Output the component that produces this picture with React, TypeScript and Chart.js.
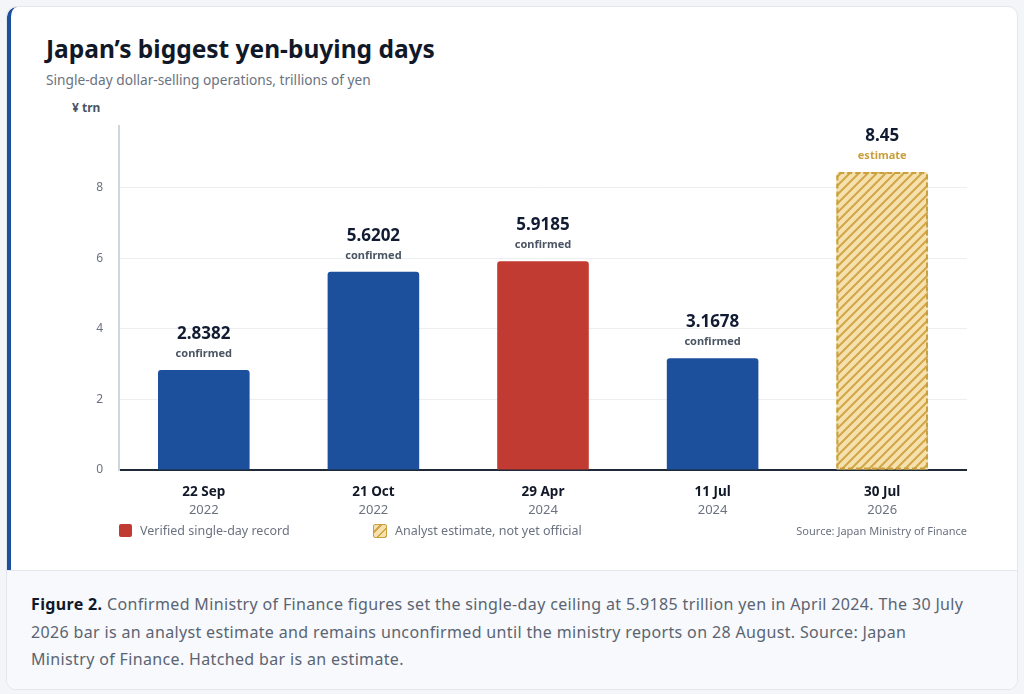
import { useEffect, useRef } from 'react';
import { Chart, registerables } from 'chart.js';

Chart.register(...registerables);

// data
const dayLabels = ['22 Sep', '21 Oct', '29 Apr', '11 Jul', '30 Jul'];
const yearLabels = ['2022', '2022', '2024', '2024', '2026'];
const amounts = [2.8382, 5.6202, 5.9185, 3.1678, 8.45];
const statusLabels = ['confirmed', 'confirmed', 'confirmed', 'confirmed', 'estimate'];
const yTicks = [0, 2, 4, 6, 8];

const BLUE = '#1c4f9c';
const RED = '#c23b32';
const GOLD = '#c9a03c';
const FONT = '"Noto Sans", "Open Sans", sans-serif';

const makeHatch = () => {
  const s = 9;
  const c = document.createElement('canvas');
  c.width = s;
  c.height = s;
  const g = c.getContext('2d')!;
  g.fillStyle = '#f5e1ad';
  g.fillRect(0, 0, s, s);
  g.strokeStyle = '#d2a548';
  g.lineWidth = 2;
  g.beginPath();
  g.moveTo(0, s);
  g.lineTo(s, 0);
  g.moveTo(-2, 2);
  g.lineTo(2, -2);
  g.moveTo(s - 2, s + 2);
  g.lineTo(s + 2, s - 2);
  g.stroke();
  return g.createPattern(c, 'repeat')!;
};

// value + status text above each bar, dashed outline on the estimate
const barLabels = {
  id: 'barLabels',
  afterDatasetsDraw(chart: Chart) {
    const { ctx } = chart;
    const meta = chart.getDatasetMeta(0);
    meta.data.forEach((bar: any, i: number) => {
      const { x, y, base, width } = bar.getProps(['x', 'y', 'base', 'width'], true);
      const est = statusLabels[i] === 'estimate';
      if (est) {
        ctx.save();
        ctx.strokeStyle = GOLD;
        ctx.lineWidth = 2;
        ctx.setLineDash([5, 3]);
        const l = x - width / 2 + 1;
        const r = x + width / 2 - 1;
        const t = y + 1;
        const b = base - 1;
        const rad = 3;
        ctx.beginPath();
        ctx.moveTo(l, b);
        ctx.lineTo(l, t + rad);
        ctx.quadraticCurveTo(l, t, l + rad, t);
        ctx.lineTo(r - rad, t);
        ctx.quadraticCurveTo(r, t, r, t + rad);
        ctx.lineTo(r, b);
        ctx.closePath();
        ctx.stroke();
        ctx.restore();
      }
      ctx.save();
      ctx.textAlign = 'center';
      ctx.textBaseline = 'middle';
      ctx.fillStyle = '#111c33';
      ctx.font = `bold 17px ${FONT}`;
      ctx.fillText(String(amounts[i]), x, y - 36);
      ctx.fillStyle = est ? GOLD : '#4b5563';
      ctx.font = `bold 11px ${FONT}`;
      ctx.fillText(statusLabels[i], x, y - 16);
      ctx.restore();
    });
  },
};

const BarChart = () => {
  const canvasRef = useRef<HTMLCanvasElement | null>(null);

  useEffect(() => {
    const canvas = canvasRef.current;
    if (!canvas) return;
    const hatch = makeHatch();
    const chart = new Chart(canvas, {
      type: 'bar',
      data: {
        labels: dayLabels,
        datasets: [
          {
            data: amounts,
            backgroundColor: amounts.map((v, i) =>
              statusLabels[i] === 'estimate' ? hatch : v === Math.max(...amounts.slice(0, 4)) ? RED : BLUE
            ),
            borderRadius: 3,
            borderSkipped: 'bottom',
            barPercentage: 0.54,
            categoryPercentage: 1,
          },
        ],
      },
      options: {
        animation: false,
        responsive: false,
        maintainAspectRatio: false,
        layout: { padding: { top: 10, right: 0, left: 0, bottom: 0 } },
        plugins: { legend: { display: false }, tooltip: { enabled: false } },
        scales: {
          x: {
            position: 'bottom',
            grid: { display: false, drawTicks: false },
            border: { color: '#1f2937', width: 2 },
            ticks: { color: '#111827', padding: 14, font: { family: FONT, size: 13.5, weight: 'bold' } },
            afterFit: (s: any) => {
              s.height = 30;
            },
          },
          x2: {
            type: 'category',
            position: 'bottom',
            labels: yearLabels,
            grid: { display: false, drawTicks: false },
            border: { display: false },
            ticks: { color: '#6b7280', padding: 2, font: { family: FONT, size: 13 } },
            afterFit: (s: any) => {
              s.height = 24;
            },
          },
          y: {
            min: 0,
            max: 9.75,
            grid: {
              drawTicks: false,
              color: (c: any) => (c.tick && c.tick.value === 0 ? 'rgba(0,0,0,0)' : '#eceef1'),
            },
            border: { color: '#cfd6e0', width: 2 },
            afterBuildTicks: (s: any) => {
              s.ticks = yTicks.map((v) => ({ value: v }));
            },
            ticks: { color: '#6b7280', padding: 16, font: { family: FONT, size: 12 } },
            afterFit: (s: any) => {
              s.width = 72;
            },
          },
        },
      },
      plugins: [barLabels],
    });
    return () => chart.destroy();
  }, []);

  return <canvas ref={canvasRef} width={920} height={421} style={{ display: 'block', width: 920, height: 421 }} />;
};

export default function App() {
  return (
    <div style={{ position: 'absolute', left: 0, top: 0, width: 1024, height: 694, background: '#f3f5f8', fontFamily: FONT }}>
      <div
        style={{
          position: 'absolute',
          left: 6,
          top: 6,
          width: 1010,
          height: 682,
          border: '1px solid #e3e7ed',
          borderRadius: 10,
          overflow: 'hidden',
          background: '#ffffff',
        }}
      >
        <div style={{ position: 'absolute', left: 0, top: 0, width: 1010, height: 563, borderLeft: `4px solid ${BLUE}`, borderTopLeftRadius: 10, boxSizing: 'border-box' }}>
          <div style={{ position: 'absolute', left: 35, top: 25, fontSize: 24.5, fontWeight: 700, color: '#111827', whiteSpace: 'nowrap' }}>
            Japan’s biggest yen-buying days
          </div>
          <div style={{ position: 'absolute', left: 35, top: 63, fontSize: 13.7, color: '#6b7280', whiteSpace: 'nowrap' }}>
            Single-day dollar-selling operations, trillions of yen
          </div>
          <div style={{ position: 'absolute', left: 61, top: 92, fontSize: 12, fontWeight: 700, color: '#4b5563' }}>¥ trn</div>
          <div style={{ position: 'absolute', left: 36, top: 96 }}>
            <BarChart />
          </div>
          <div style={{ position: 'absolute', left: 108, top: 515, display: 'flex', alignItems: 'center', fontSize: 12.5, color: '#6b7280' }}>
            <span style={{ width: 13, height: 13, borderRadius: 2, background: RED, display: 'inline-block', marginRight: 8 }} />
            Verified single-day record
          </div>
          <div style={{ position: 'absolute', left: 362, top: 515, display: 'flex', alignItems: 'center', fontSize: 12.5, color: '#6b7280' }}>
            <span
              style={{
                width: 12,
                height: 12,
                borderRadius: 2,
                border: `1.5px solid ${GOLD}`,
                background: `repeating-linear-gradient(135deg, #f5e1ad 0 4px, #d2a548 4px 6px)`,
                display: 'inline-block',
                marginRight: 8,
              }}
            />
            Analyst estimate, not yet official
          </div>
          <div style={{ position: 'absolute', right: 50, top: 516, fontSize: 11, color: '#6b7280', whiteSpace: 'nowrap' }}>
            Source: Japan Ministry of Finance
          </div>
        </div>
        <div
          style={{
            position: 'absolute',
            left: 0,
            top: 563,
            width: 1010,
            height: 119,
            background: '#f7f9fc',
            borderTop: '1px solid #e3e7ed',
            boxSizing: 'border-box',
            padding: '20px 48px 0 24px',
            fontSize: 16,
            letterSpacing: 0.35,
            lineHeight: '27.5px',
            color: '#5b6472',
          }}
        >
          <b style={{ color: '#111827' }}>Figure 2.</b> Confirmed Ministry of Finance figures set the single-day ceiling at 5.9185 trillion yen in
          April 2024. The 30 July 2026 bar is an analyst estimate and remains unconfirmed until the ministry reports on 28 August. Source:
          Japan Ministry of Finance. Hatched bar is an estimate.
        </div>
      </div>
    </div>
  );
}
